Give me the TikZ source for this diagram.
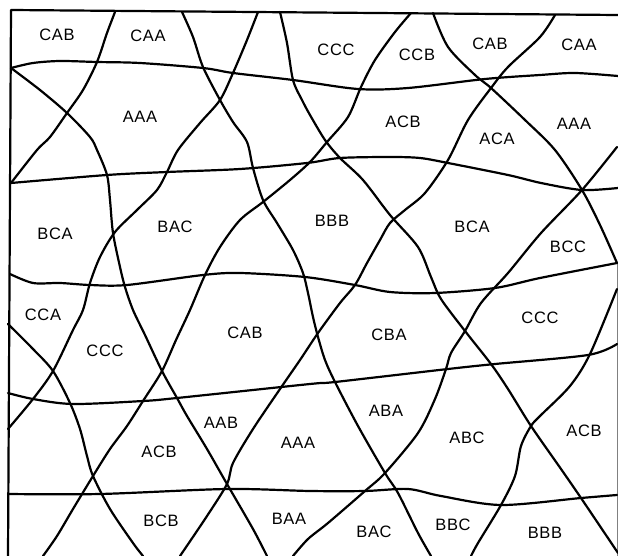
\documentclass[tikz,border=0pt]{standalone}
\usepackage{fontspec}
\setmainfont{Liberation Sans}[LetterSpace=4]
\begin{document}
\begin{tikzpicture}[x=1pt,y=-1pt,
  ln/.style={line width=2.2pt, line join=round, line cap=round},
  cell/.style={font=\fontsize{16.5}{16.5}\selectfont, inner sep=0pt}]
\useasboundingbox (0,0) rectangle (618,556);
% frame
\draw[ln] (618,15) -- (11,10) -- (8,556);
\draw[line width=0.5pt, gray] (617,263) -- (617,556);
% horizontal wavy lines
\draw[ln] plot[smooth] coordinates {(11,68) (33,63) (60,61) (97,62) (140,63) (203,68) (233,73) (293,80) (358,89) (408,88) (485,79) (540,75) (575,73) (618,76)};
\draw[ln] plot[smooth] coordinates {(11,183) (107,175) (167,172) (240,169) (307,163) (340,158) (390,157) (420,158) (448,163) (508,175) (541,183) (582,190) (618,188)};
\draw[ln] plot[smooth] coordinates {(10,274) (33,283) (60,283) (90,285) (127,285) (203,275) (240,273) (305,277) (355,285) (390,292) (435,293) (495,288) (540,278) (617,263)};
\draw[ln] plot[smooth] coordinates {(8,393) (33,399) (73,404) (143,401) (177,398) (310,384) (335,382) (448,369) (495,364) (588,355) (617,344)};
\draw[ln] plot[smooth] coordinates {(8,494) (100,494) (227,489) (310,491) (365,491) (408,489) (441,496) (501,505) (581,498) (617,495)};
% down-left curves
\draw[ln] plot[smooth] coordinates {(115,12) (107,33) (97,62) (83,90) (67,113) (50,137) (37,150) (11,183)};
\draw[ln] plot[smooth] coordinates {(258,12) (247,40) (233,73) (220,100) (200,123) (178,150) (167,172) (157,190) (137,210) (115,232) (100,257) (90,283) (83,310) (73,330) (53,371) (33,399) (8,429)};
\draw[ln] plot[smooth] coordinates {(411,13) (395,32) (375,60) (361,87) (348,117) (327,142) (310,162) (290,180) (263,202) (240,220) (220,247) (205,275) (190,310) (176,340) (162,371) (143,401) (127,426) (110,449) (93,476) (73,509) (57,536) (43,556)};
\draw[ln] plot[smooth] coordinates {(555,15) (540,37) (508,67) (491,88) (468,120) (448,160) (425,193) (405,210) (390,223) (380,240) (367,263) (355,285) (340,303) (318,333) (300,360) (280,389) (253,429) (233,463) (227,484) (207,516) (180,556)};
\draw[ln] plot[smooth] coordinates {(617,147) (582,190) (541,233) (508,273) (481,303) (465,331) (451,353) (446,369) (435,399) (418,433) (385,473) (365,491) (328,523) (308,539) (293,556)};
\draw[ln] plot[smooth] coordinates {(617,289) (590,354) (570,386) (540,416) (531,426) (521,446) (515,476) (501,505) (478,543) (471,556)};
% down-right curves
\draw[ln] plot[smooth] coordinates {(11,68) (40,90) (67,113) (90,137) (97,150) (107,175) (110,200) (113,233) (120,267) (125,287) (133,310) (145,335) (162,371) (177,398) (187,416) (207,449) (227,484) (253,529) (267,556)};
\draw[ln] plot[smooth] coordinates {(182,12) (193,37) (203,67) (220,100) (233,122) (247,142) (253,168) (263,200) (277,223) (293,250) (303,273) (308,293) (313,317) (318,337) (325,360) (335,382) (358,426) (385,473) (398,493) (418,533) (431,556)};
\draw[ln] plot[smooth] coordinates {(280,12) (287,43) (293,80) (302,100) (310,115) (325,140) (340,158) (363,180) (390,215) (418,247) (431,277) (441,299) (465,331) (491,364) (508,389) (531,426) (561,469) (581,498) (618,553)};
\draw[ln] plot[smooth] coordinates {(433,13) (448,47) (475,75) (491,88) (525,120) (555,150) (582,190) (600,225) (617,263)};
\draw[ln] plot[smooth] coordinates {(8,324) (33,349) (53,371) (70,403) (80,429) (87,456) (93,476) (110,509) (133,543) (143,556)};
% labels row 1
\node[cell] (a1) at (57,35) {CAB};
\node[cell] (a2) at (148,36) {CAA};
\node[cell] (a3) at (336,50) {CCC};
\node[cell] (a4) at (417,55) {CCB};
\node[cell] (a5) at (490,44) {CAB};
\node[cell] (a6) at (579,45) {CAA};
% row 2
\node[cell] (b1) at (140,117) {AAA};
\node[cell] (b2) at (403,122) {ACB};
\node[cell] (b3) at (497,139) {ACA};
\node[cell] (b4) at (574,124) {AAA};
% row 3
\node[cell] (c1) at (55,234) {BCA};
\node[cell] (c2) at (175,227) {BAC};
\node[cell] (c3) at (332,221) {BBB};
\node[cell] (c4) at (472,227) {BCA};
\node[cell] (c5) at (568,247) {BCC};
% row 4
\node[cell] (d1) at (43,315) {CCA};
\node[cell] (d2) at (105,351) {CCC};
\node[cell] (d3) at (245,333) {CAB};
\node[cell] (d4) at (389,335) {CBA};
\node[cell] (d5) at (540,318) {CCC};
% row 5
\node[cell] (e1) at (221,423) {AAB};
\node[cell] (e2) at (159,452) {ACB};
\node[cell] (e3) at (298,443) {AAA};
\node[cell] (e4) at (386,411) {ABA};
\node[cell] (e5) at (467,438) {ABC};
\node[cell] (e6) at (584,431) {ACB};
% row 6
\node[cell] (f1) at (161,521) {BCB};
\node[cell] (f2) at (289,519) {BAA};
\node[cell] (f3) at (374,532) {BAC};
\node[cell] (f4) at (453,525) {BBC};
\node[cell] (f5) at (545,533) {BBB};
\end{tikzpicture}
\end{document}
